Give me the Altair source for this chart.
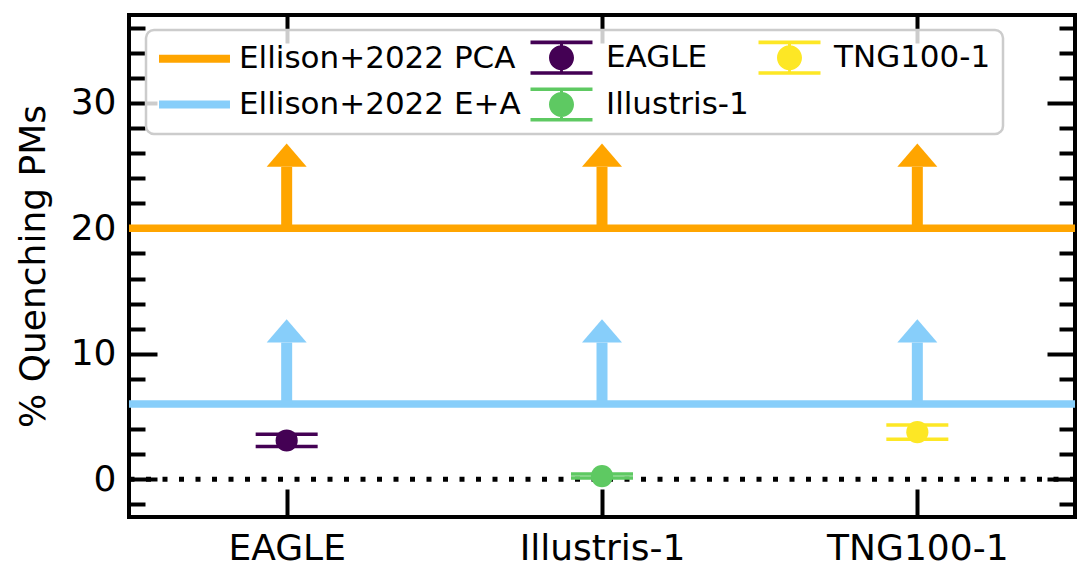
import altair as alt
import pandas as pd

# ---------------- data ----------------
categories = ["EAGLE", "Illustris-1", "TNG100-1"]
sim_values = [3.10, 0.26, 3.76]
sim_errors = [0.49, 0.16, 0.57]
sim_colors = ["#440154", "#5ec962", "#fde725"]

line_labels = ["Ellison+2022 PCA", "Ellison+2022 E+A"]
line_values = [20.0, 6.0]
line_colors = ["#ffa500", "#87cefa"]
arrow_shaft = 4.9  # arrow shaft length above each line (data units)

zero_level = [0.0]
y_domain = [-3, 37]
y_major = [0, 10, 20, 30]
y_minor = [-2, 2, 4, 6, 8, 12, 14, 16, 18, 22, 24, 26, 28, 32, 34, 36]

# legend order (filled column by column in a 3-column legend)
legend_order = ["Ellison+2022 PCA", "Ellison+2022 E+A", "EAGLE", "Illustris-1", "TNG100-1"]

# ---------------- styles ----------------
FONT = "DejaVu Sans"
W, H = 946, 502
MAJOR, MINOR = 28, 16
TICKW = 4

# legend glyphs (unit = 15 px, symbolSize 900)
LINE_PATH = "M-2.366,-0.264H2.366V0.264H-2.366Z"
ERR_PATH = ("M-2.066,-1.14H2.066V-0.90H-2.066Z"
            "M-2.066,0.90H2.066V1.14H-2.066Z"
            "M-0.1,-1.02H0.1V1.02H-0.1Z"
            "M-0.833,0A0.833,0.833 0 1,1 0.833,0A0.833,0.833 0 1,1 -0.833,0Z")
HEAD_PATH = "M-1,0L1,0L0,-1.17Z"

color_of = dict(zip(categories, sim_colors))
color_of.update(dict(zip(line_labels, line_colors)))
leg_colors = [color_of[s] for s in legend_order]
leg_shapes = [LINE_PATH if s in line_labels else ERR_PATH for s in legend_order]

# ---------------- tables ----------------
sims = pd.DataFrame({"cat": categories, "value": sim_values, "err": sim_errors, "hex": sim_colors})
sims["lo"] = sims["value"] - sims["err"]
sims["hi"] = sims["value"] + sims["err"]

lines = pd.DataFrame({"label": line_labels, "value": line_values, "hex": line_colors})
arrows = pd.DataFrame([
    {"cat": c, "base": v, "tip": v + arrow_shaft, "hex": h}
    for v, h in zip(line_values, line_colors) for c in categories
])
zero = pd.DataFrame({"value": zero_level})
leg = pd.DataFrame({"series": legend_order})

xs = alt.Scale(type="point", domain=categories, padding=0.5)
ys = alt.Scale(domain=y_domain, nice=False, zero=False)


def axis(orient, size, values=None, labels=False, **kw):
    args = dict(orient=orient, tickSize=size, offset=-size, domain=False, grid=False,
                ticks=True, tickColor="black", tickWidth=TICKW, labels=labels, title=None)
    if values is not None:
        args["values"] = values
    args.update(kw)
    return alt.Axis(**args)


# horizontal literature lines, carrying left major axis with labels + title
hlines = alt.Chart(lines).mark_rule(strokeWidth=7.5, strokeCap="butt").encode(
    y=alt.Y("value:Q", scale=ys,
            axis=axis("left", MAJOR, y_major, labels=True, labelPadding=13,
                      labelFontSize=36, labelColor="black", labelLimit=400,
                      title="% Quenching PMs", titleFontSize=36, titleFontWeight="normal",
                      titleColor="black", titleX=-124, titleBaseline="middle", titleAngle=270)),
    color=alt.Color("hex:N", scale=None),
)

# dotted zero line, carrying right major axis
zline = alt.Chart(zero).mark_rule(strokeWidth=5, strokeDash=[5, 11.5], color="black").encode(
    y=alt.Y("value:Q", scale=ys, axis=axis("right", MAJOR, y_major)),
)

# arrow shafts (left minor axis)
shafts = alt.Chart(arrows).mark_rule(strokeWidth=11, strokeCap="butt").encode(
    x=alt.X("cat:N", scale=xs, axis=None),
    y=alt.Y("base:Q", scale=ys, axis=axis("left", MINOR, y_minor)),
    y2="tip:Q",
    color=alt.Color("hex:N", scale=None),
)

# arrow heads (right minor axis)
heads = alt.Chart(arrows).mark_point(shape=HEAD_PATH, size=1600, filled=True,
                                     strokeWidth=0, opacity=1).encode(
    x=alt.X("cat:N", scale=xs, axis=None),
    y=alt.Y("tip:Q", scale=ys, axis=axis("right", MINOR, y_minor)),
    color=alt.Color("hex:N", scale=None),
)

# error bar vertical lines (bottom x axis with labels)
evert = alt.Chart(sims).mark_rule(strokeWidth=3.5).encode(
    x=alt.X("cat:N", scale=xs,
            axis=axis("bottom", MAJOR, labels=True, labelPadding=14, labelFontSize=36,
                      labelColor="black", labelAngle=0, labelLimit=400)),
    y=alt.Y("lo:Q", scale=ys, axis=None),
    y2="hi:Q",
    color=alt.Color("hex:N", scale=None),
)

caps_lo = alt.Chart(sims).mark_tick(orient="horizontal", size=62, thickness=3.5, opacity=1).encode(
    x=alt.X("cat:N", scale=xs, axis=axis("top", MAJOR)),
    y=alt.Y("lo:Q", scale=ys, axis=None),
    color=alt.Color("hex:N", scale=None),
)
caps_hi = alt.Chart(sims).mark_tick(orient="horizontal", size=62, thickness=3.5, opacity=1).encode(
    x=alt.X("cat:N", scale=xs, axis=None),
    y=alt.Y("hi:Q", scale=ys, axis=None),
    color=alt.Color("hex:N", scale=None),
)

pts = alt.Chart(sims).mark_point(shape="circle", size=490, filled=True, strokeWidth=0, opacity=1).encode(
    x=alt.X("cat:N", scale=xs, axis=None),
    y=alt.Y("value:Q", scale=ys, axis=None),
    color=alt.Color("hex:N", scale=None),
)

legend_props = dict(
    orient="none", legendX=17, legendY=15, columns=3, columnPadding=4, rowPadding=12,
    symbolSize=900, symbolOffset=21, symbolStrokeWidth=0, symbolOpacity=1, labelFont=FONT,
    labelFontSize=31, labelColor="black", labelOffset=29, labelLimit=500, padding=12,
    strokeColor="#cccccc", cornerRadius=8,
    fillColor="rgba(255,255,255,0.8)", title=None,
)

legend_layer = alt.Chart(leg).mark_point(filled=True, opacity=0).encode(
    x=alt.value(0),
    y=alt.value(0),
    color=alt.Color("series:N", scale=alt.Scale(domain=legend_order, range=leg_colors),
                    legend=alt.Legend(**legend_props)),
    shape=alt.Shape("series:N", scale=alt.Scale(domain=legend_order, range=leg_shapes),
                    legend=alt.Legend(**legend_props)),
)

chart = alt.layer(
    zline, hlines, shafts, heads, evert, caps_lo, caps_hi, pts, legend_layer
).resolve_axis(
    x="independent", y="independent"
).properties(
    width=W, height=H,
    autosize=alt.AutoSizeParams(type="none"),
    padding={"left": 121, "top": 7, "right": 7, "bottom": 59},
).configure(
    font=FONT,
).configure_axis(
    labelFont=FONT, titleFont=FONT,
).configure_legend(
    strokeWidth=2.5,
).configure_view(
    stroke="black", strokeWidth=4,
)

chart.save("out.html", embed_options={"renderer": "svg", "actions": False})
